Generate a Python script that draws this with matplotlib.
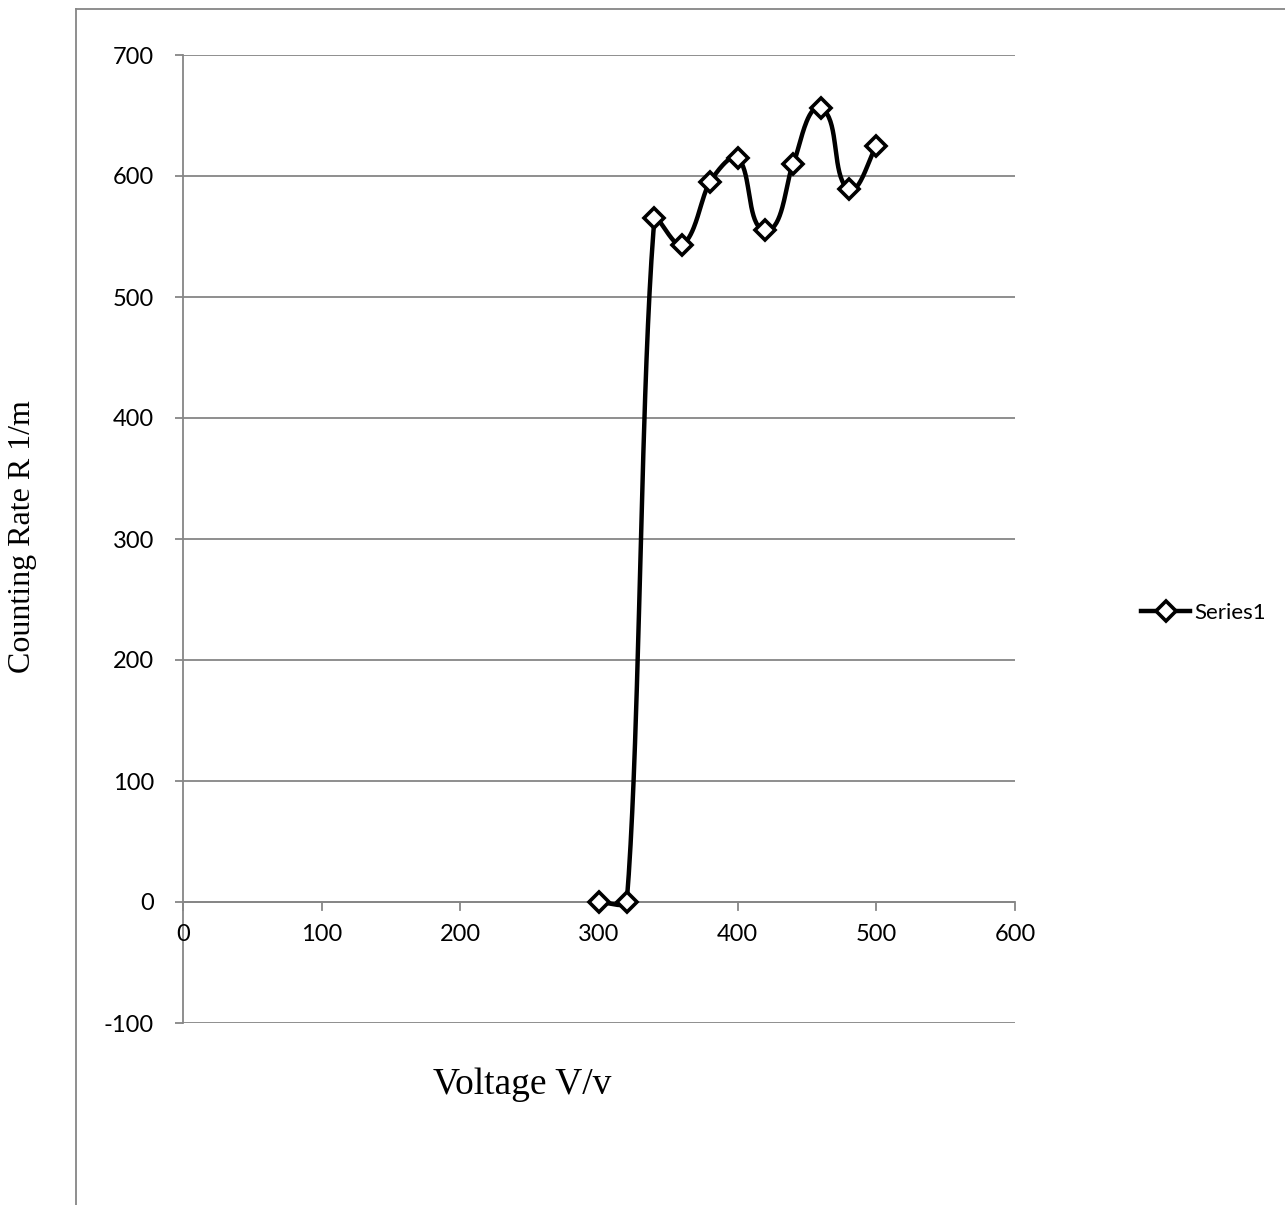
import numpy as np
import matplotlib
matplotlib.use("Agg")
import matplotlib.pyplot as plt
from matplotlib.lines import Line2D

voltage = [300, 320, 340, 360, 380, 400, 420, 440, 460, 480, 500]
rate = [0, 0, 565, 543, 595, 615, 555, 610, 656, 589, 625]
series_name = "Series1"
x_ticks = [0, 100, 200, 300, 400, 500, 600]
y_ticks = [-100, 0, 100, 200, 300, 400, 500, 600, 700]

XS = 1.3867  # px per x unit (used only for smoothing shape)
YS = 1.2114  # px per y unit


def smooth(xs, ys, n=40, k=0.25):
    # Excel-like smoothed line, computed in display-like space
    P = np.column_stack([np.asarray(xs, float) * XS, np.asarray(ys, float) * YS])
    m = len(P)
    out = []

    def tangent(i):
        a = P[i - 1] if i > 0 else P[i]
        b = P[i + 1] if i + 1 < m else P[i]
        d = b - a
        nrm = np.hypot(*d)
        return d / nrm if nrm > 0 else d

    for i in range(m - 1):
        p1 = P[i]
        p2 = P[i + 1]
        L = np.hypot(*(p2 - p1))
        c1 = p1 + tangent(i) * L * k
        c2 = p2 - tangent(i + 1) * L * k
        t = np.linspace(0, 1, n)[:, None]
        b = ((1 - t) ** 3) * p1 + 3 * ((1 - t) ** 2) * t * c1 + 3 * (1 - t) * t ** 2 * c2 + t ** 3 * p2
        out.append(b if i == 0 else b[1:])
    out = np.vstack(out)
    return out[:, 0] / XS, out[:, 1] / YS


plt.rcParams['font.family'] = ['Lato', 'DejaVu Sans']
plt.rcParams['axes.unicode_minus'] = False

fig = plt.figure(figsize=(12.85, 12.05), dpi=100)
ax = fig.add_axes([183 / 1285, 182 / 1205, (1015 - 183) / 1285, (1023 - 55) / 1205])

grid_color = '#868686'
ax.set_xlim(0, 600)
ax.set_ylim(-100, 700)
ax.set_xticks(x_ticks)
ax.set_yticks(y_ticks)
ax.yaxis.grid(True, color=grid_color, linewidth=1.3)
ax.set_axisbelow(True)

for s in ['top', 'right', 'bottom']:
    ax.spines[s].set_visible(False)
ax.spines['left'].set_color(grid_color)
ax.spines['left'].set_linewidth(1.3)
ax.axhline(0, color=grid_color, linewidth=1.3, zorder=1)
ax.tick_params(axis='y', length=6, width=1.3, color=grid_color, labelsize=17, pad=15)
ax.tick_params(axis='x', length=0, labelsize=17, pad=0)
for xv in x_ticks:
    ax.plot([xv, xv], [0, -6.5], color=grid_color, linewidth=1.3, zorder=1, clip_on=False)
ax.set_xticklabels([])
for xv in x_ticks:
    ax.text(xv, -18, str(xv), ha='center', va='top', fontsize=17, color='black')

sx, sy = smooth(voltage, rate)
ax.plot(sx, sy, color='black', linewidth=3.2, zorder=3, solid_capstyle='round')
ax.plot(voltage, rate, linestyle='none', marker='D', markersize=10,
        markerfacecolor='white', markeredgecolor='black', markeredgewidth=2.6, zorder=4)

handle = Line2D([0], [0], color='black', linewidth=3.2, marker='D', markersize=10,
                markerfacecolor='white', markeredgecolor='black', markeredgewidth=2.6)
fig.legend([handle], [series_name], loc='center left', bbox_to_anchor=(1130 / 1285, 1 - 613 / 1205),
           frameon=False, fontsize=16, handlelength=2.2, handletextpad=0.2, borderpad=0)

fig.text(522 / 1285, 1 - 1085 / 1205, 'Voltage V/v', ha='center', va='center',
         fontsize=27, family=['Liberation Serif'])
fig.text(23 / 1285, 1 - 537 / 1205, 'Counting Rate R 1/m', ha='center', va='center',
         rotation=90, fontsize=23, family=['Liberation Serif'])

fx = 76 / 1285
fy = 1 - 9 / 1205
fig.add_artist(Line2D([fx, fx], [0, fy], color=grid_color, linewidth=1.3))
fig.add_artist(Line2D([fx, 1], [fy, fy], color=grid_color, linewidth=1.3))

fig.savefig('out.png', dpi=100)
